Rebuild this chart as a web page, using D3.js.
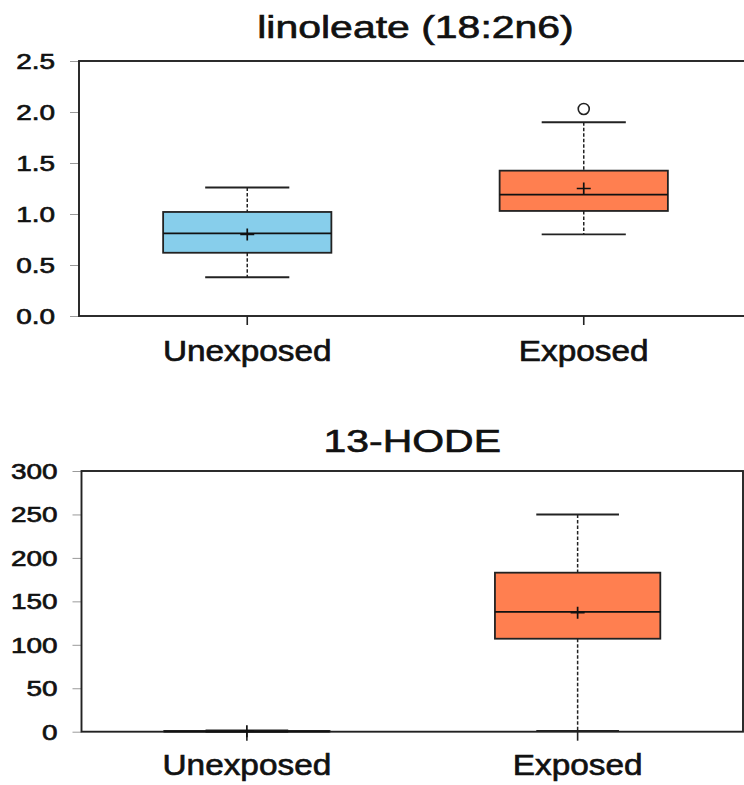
<!DOCTYPE html>
<html>
<head>
<meta charset="utf-8">
<script src="https://cdn.jsdelivr.net/npm/d3@7/dist/d3.min.js"></script>
<style>
  html, body { margin: 0; padding: 0; background: #fff; }
  svg { display: block; }
  text { font-family: "Liberation Sans", Arial, Helvetica, sans-serif; fill: #111; stroke: #111; stroke-width: 0.65px; }
</style>
</head>
<body>
<svg id="chart" width="744" height="785"></svg>
<script>
// ---------- data ----------
const categories = ["Unexposed", "Exposed"];

const linoleateTitle = "linoleate (18:2n6)";
const linoleateTicks = [0, 0.5, 1.0, 1.5, 2.0, 2.5];
const linoleateWhiskerLow  = [0.38, 0.80];
const linoleateQ1          = [0.62, 1.03];
const linoleateMedian      = [0.81, 1.19];
const linoleateQ3          = [1.02, 1.425];
const linoleateWhiskerHigh = [1.26, 1.90];
const linoleateMean        = [0.80, 1.25];
const linoleateOutliers    = [[], [2.03]];

const hodeTitle = "13-HODE";
const hodeTicks = [0, 50, 100, 150, 200, 250, 300];
const hodeWhiskerLow  = [0, 1];
const hodeQ1          = [0.2, 107];
const hodeMedian      = [0.4, 138];
const hodeQ3          = [0.8, 183];
const hodeWhiskerHigh = [1.5, 250];
const hodeMean        = [0.6, 137];
const hodeOutliers    = [[], []];

const boxColors = ["#87CEEB", "#FF7F50"];

// ---------- drawing ----------
const svg = d3.select("#chart");

function stretchText(sel, sx) {
  // horizontally widen glyphs around the anchor point
  sel.each(function () {
    const t = d3.select(this);
    const x = +t.attr("x") || 0;
    const y = +t.attr("y") || 0;
    t.attr("x", null).attr("y", null)
     .attr("transform", `translate(${x},${y}) scale(${sx},1)`);
  });
}

function panel(cfg) {
  const g = svg.append("g");
  const x = d3.scaleBand().domain(categories).range([cfg.left, cfg.right]).paddingInner(0).paddingOuter(0);
  const y = d3.scaleLinear().domain([cfg.ticks[0], cfg.ticks[cfg.ticks.length - 1]]).range([cfg.bottom, cfg.top]);

  // y axis ticks
  const yAxis = d3.axisLeft(y).tickValues(cfg.ticks).tickSize(9).tickFormat(cfg.fmt);
  const ya = g.append("g").attr("transform", `translate(${cfg.left},0)`).call(yAxis);
  ya.select(".domain").remove();
  ya.selectAll(".tick line").attr("stroke", "#9a9a9a").attr("stroke-width", 1);
  ya.selectAll(".tick text")
    .attr("font-size", 22).attr("font-family", "Liberation Sans, Arial, sans-serif")
    .attr("fill", "#111").attr("dy", null)
    .attr("x", -24).attr("y", 7.5)
    .call(stretchText, 1.27);

  // x axis ticks + labels
  const xAxis = d3.axisBottom(x).tickSize(9).tickSizeOuter(0);
  const xa = g.append("g").attr("transform", `translate(0,${cfg.bottom})`).call(xAxis);
  xa.select(".domain").remove();
  xa.selectAll(".tick line").attr("stroke", "#222").attr("stroke-width", 1.6);
  xa.selectAll(".tick text")
    .attr("font-size", 29).attr("font-family", "Liberation Sans, Arial, sans-serif")
    .attr("fill", "#111").attr("dy", null)
    .attr("x", 0).attr("y", cfg.catY)
    .call(stretchText, 1.15);

  // frame
  g.append("rect")
    .attr("x", cfg.left).attr("y", cfg.top)
    .attr("width", cfg.right - cfg.left).attr("height", cfg.bottom - cfg.top)
    .attr("fill", "none").attr("stroke", "#222").attr("stroke-width", 1.9);

  const bw = x.bandwidth();
  const boxW = bw * 0.5;
  const capW = bw * 0.25;

  categories.forEach((c, i) => {
    const cx = x(c) + bw / 2;
    const bg = g.append("g");
    // whiskers (dashed)
    bg.append("line").attr("x1", cx).attr("x2", cx)
      .attr("y1", y(cfg.hi[i])).attr("y2", y(cfg.q3[i]))
      .attr("stroke", "#222").attr("stroke-width", 1.5).attr("stroke-dasharray", "3.5,2");
    bg.append("line").attr("x1", cx).attr("x2", cx)
      .attr("y1", y(cfg.q1[i])).attr("y2", y(cfg.lo[i]))
      .attr("stroke", "#222").attr("stroke-width", 1.5).attr("stroke-dasharray", "3.5,2");
    // caps
    [cfg.hi[i], cfg.lo[i]].forEach(v => {
      bg.append("line").attr("x1", cx - capW / 2).attr("x2", cx + capW / 2)
        .attr("y1", y(v)).attr("y2", y(v))
        .attr("stroke", "#222").attr("stroke-width", 1.9);
    });
    // box
    bg.append("rect")
      .attr("x", cx - boxW / 2).attr("width", boxW)
      .attr("y", y(cfg.q3[i])).attr("height", Math.max(0.5, y(cfg.q1[i]) - y(cfg.q3[i])))
      .attr("fill", boxColors[i]).attr("stroke", "#222").attr("stroke-width", 1.8);
    // median
    bg.append("line").attr("x1", cx - boxW / 2).attr("x2", cx + boxW / 2)
      .attr("y1", y(cfg.med[i])).attr("y2", y(cfg.med[i]))
      .attr("stroke", "#111").attr("stroke-width", 1.8);
    // mean marker
    const my = y(cfg.mean[i]);
    bg.append("path")
      .attr("d", `M${cx - 7},${my}H${cx + 7}M${cx},${my - 6}V${my + 6}`)
      .attr("stroke", "#111").attr("stroke-width", 1.7).attr("fill", "none");
    // outliers
    cfg.out[i].forEach(v => {
      bg.append("circle").attr("cx", cx).attr("cy", y(v)).attr("r", 5.5)
        .attr("fill", "#fff").attr("stroke", "#222").attr("stroke-width", 1.6);
    });
  });

  // title
  g.append("text")
    .attr("x", (cfg.left + cfg.right) / 2).attr("y", cfg.titleY)
    .attr("text-anchor", "middle").attr("font-size", 32)
    .text(cfg.title)
    .call(stretchText, 1.28);
}

panel({
  title: linoleateTitle, ticks: linoleateTicks, fmt: d3.format(".1f"),
  lo: linoleateWhiskerLow, q1: linoleateQ1, med: linoleateMedian, q3: linoleateQ3,
  hi: linoleateWhiskerHigh, mean: linoleateMean, out: linoleateOutliers,
  left: 79, right: 752, top: 61, bottom: 316, catY: 45, titleY: 38
});

panel({
  title: hodeTitle, ticks: hodeTicks, fmt: d3.format("d"),
  lo: hodeWhiskerLow, q1: hodeQ1, med: hodeMedian, q3: hodeQ3,
  hi: hodeWhiskerHigh, mean: hodeMean, out: hodeOutliers,
  left: 81.5, right: 743, top: 471, bottom: 731.7, catY: 43.5, titleY: 452
});
</script>
</body>
</html>
